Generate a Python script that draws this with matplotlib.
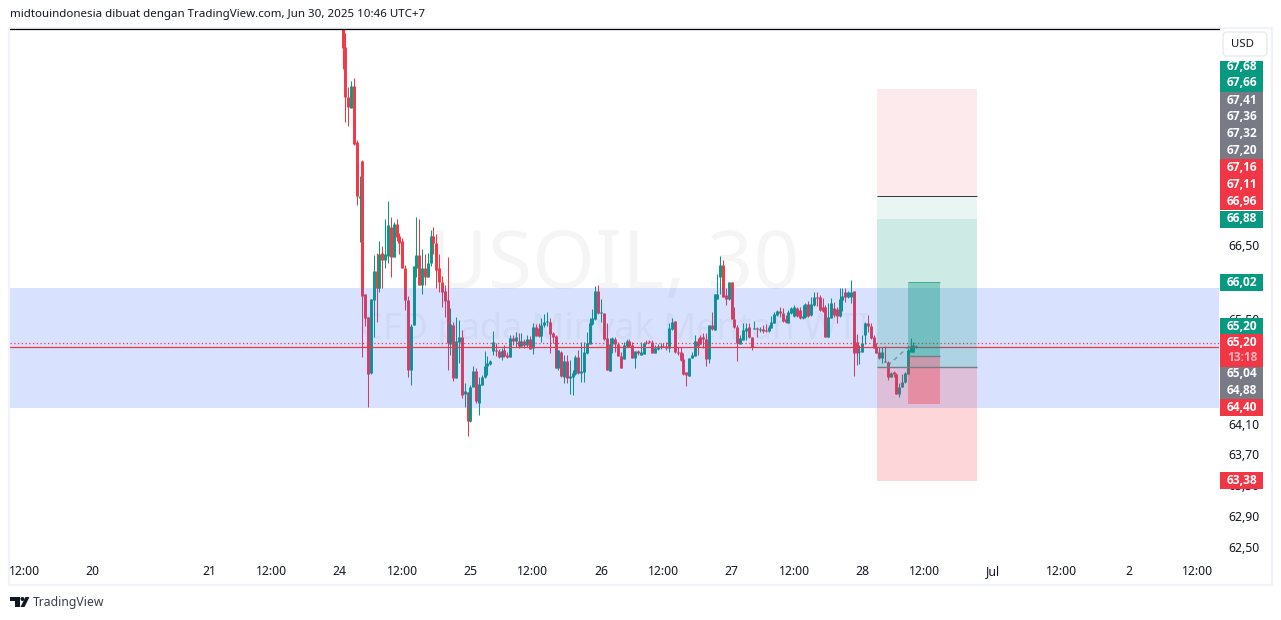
import matplotlib
matplotlib.use('Agg')
import matplotlib.pyplot as plt
from matplotlib.patches import Rectangle, Circle, Polygon, FancyBboxPatch
from matplotlib.ticker import NullLocator

GREEN = '#089981'
RED = '#F23645'
GREY = '#787B86'
INK = '#131722'

# 30 minute candles
opens = [69.54, 69.27, 68.56, 68.40, 68.71, 67.92, 67.15, 67.66, 65.84, 65.52,
         64.77, 65.75, 66.14, 65.91, 66.39, 66.30, 66.35, 66.75, 66.33, 66.79,
         66.63, 66.55, 66.19, 65.75, 64.81, 65.41, 66.19, 66.37, 65.96, 66.18,
         66.06, 66.25, 66.63, 66.53, 66.18, 65.99, 65.87, 65.75, 65.16, 65.41,
         64.70, 65.19, 65.25, 64.49, 64.52, 64.14, 64.58, 64.80, 64.38, 64.61,
         64.72, 64.87, 64.89, 65.07, 65.08, 65.07, 64.99, 65.08, 65.01, 64.99,
         65.24, 65.20, 65.20, 65.13, 65.20, 65.15, 65.23, 65.11, 65.39, 65.37,
         65.27, 65.41, 65.45, 65.45, 65.31, 65.27, 64.84, 65.05, 64.72, 64.93,
         64.70, 64.72, 64.76, 64.99, 64.77, 64.78, 65.04, 65.16, 65.43, 65.49,
         65.88, 65.58, 65.58, 65.24, 64.80, 65.16, 65.23, 65.16, 65.00, 64.96,
         65.13, 65.20, 65.15, 64.97, 65.07, 65.01, 65.03, 65.19, 65.20, 65.19,
         65.04, 65.09, 65.12, 65.13, 65.13, 65.11, 65.36, 65.47, 65.05, 65.05,
         64.96, 64.78, 64.73, 64.97, 65.00, 65.20, 65.25, 65.25, 65.23, 64.96,
         65.41, 65.35, 65.76, 66.07, 66.23, 65.82, 65.76, 65.99, 65.49, 65.39,
         65.16, 65.21, 65.33, 65.39, 65.25, 65.36, 65.37, 65.35, 65.36, 65.35,
         65.33, 65.37, 65.44, 65.55, 65.60, 65.58, 65.49, 65.44, 65.58, 65.53,
         65.64, 65.62, 65.51, 65.52, 65.70, 65.55, 65.68, 65.79, 65.79, 65.66,
         65.66, 65.25, 65.51, 65.64, 65.63, 65.53, 65.75, 65.86, 65.79, 65.79,
         65.87, 65.19, 65.05, 65.05, 65.28, 65.44, 65.40, 65.25, 65.12, 65.05,
         64.97, 64.93, 64.92, 64.72, 64.78, 64.76, 64.50, 64.58, 64.65, 64.76,
         65.05, 65.05, 65.12]
highs = [69.54, 69.46, 68.70, 68.78, 68.83, 67.95, 67.45, 67.67, 65.84, 65.52,
         65.76, 66.37, 66.39, 66.55, 66.49, 66.86, 67.10, 66.89, 66.82, 66.85,
         66.66, 66.59, 66.23, 65.80, 65.43, 66.22, 66.88, 66.86, 66.45, 66.38,
         66.39, 66.70, 66.74, 66.65, 66.38, 66.08, 65.95, 66.34, 65.64, 65.45,
         65.52, 65.48, 65.35, 64.64, 64.52, 64.61, 64.87, 64.84, 64.72, 64.74,
         65.07, 65.00, 64.95, 65.33, 65.17, 65.09, 65.11, 65.15, 65.05, 65.28,
         65.28, 65.32, 65.31, 65.31, 65.23, 65.28, 65.27, 65.44, 65.43, 65.44,
         65.51, 65.56, 65.59, 65.51, 65.32, 65.28, 65.08, 65.07, 65.01, 65.01,
         64.95, 64.81, 65.01, 65.08, 65.19, 65.19, 65.32, 65.51, 65.63, 65.94,
         65.96, 65.76, 65.58, 65.44, 65.24, 65.25, 65.25, 65.19, 65.05, 65.19,
         65.23, 65.23, 65.19, 65.07, 65.08, 65.19, 65.19, 65.21, 65.21, 65.21,
         65.15, 65.16, 65.17, 65.17, 65.19, 65.44, 65.51, 65.47, 65.12, 65.12,
         65.04, 64.78, 64.97, 65.05, 65.28, 65.24, 65.28, 65.31, 65.31, 65.41,
         65.59, 65.84, 66.11, 66.35, 66.30, 65.92, 66.00, 66.00, 65.66, 65.41,
         65.28, 65.44, 65.44, 65.44, 65.25, 65.47, 65.39, 65.39, 65.41, 65.43,
         65.41, 65.53, 65.59, 65.62, 65.66, 65.64, 65.55, 65.62, 65.66, 65.68,
         65.66, 65.66, 65.68, 65.71, 65.74, 65.79, 65.86, 65.86, 65.82, 65.78,
         65.68, 65.71, 65.78, 65.72, 65.66, 65.91, 65.91, 65.92, 65.88, 66.03,
         65.88, 65.29, 65.15, 65.28, 65.45, 65.55, 65.44, 65.28, 65.17, 65.12,
         65.12, 65.13, 64.93, 64.78, 64.80, 64.77, 64.64, 64.76, 64.78, 65.11,
         65.24, 65.19, 65.15]
lows = [68.95, 68.20, 68.15, 68.40, 67.88, 67.05, 66.54, 64.99, 65.40, 64.32,
        64.76, 65.25, 65.45, 65.86, 65.92, 66.18, 66.26, 66.07, 66.33, 66.55,
        66.38, 66.18, 65.62, 64.72, 64.61, 65.41, 66.06, 65.96, 65.84, 65.95,
        66.06, 66.22, 66.38, 65.92, 65.86, 65.66, 65.52, 64.81, 65.01, 64.66,
        64.70, 64.91, 64.44, 64.32, 63.94, 64.12, 64.58, 64.38, 64.22, 64.61,
        64.70, 64.74, 64.88, 65.01, 65.00, 64.97, 64.95, 64.99, 64.97, 64.99,
        65.15, 65.12, 65.11, 65.12, 65.11, 65.12, 65.09, 65.03, 65.27, 65.25,
        65.19, 65.39, 65.40, 65.04, 65.17, 64.84, 64.81, 64.72, 64.64, 64.64,
        64.49, 64.48, 64.74, 64.76, 64.65, 64.65, 65.03, 65.16, 65.41, 65.48,
        65.56, 65.45, 65.21, 64.81, 64.80, 65.04, 65.05, 65.00, 64.84, 64.96,
        65.12, 65.12, 64.97, 64.84, 65.01, 65.01, 65.03, 65.16, 65.17, 65.04,
        65.04, 65.08, 65.09, 65.12, 65.08, 65.05, 65.35, 65.04, 65.01, 64.93,
        64.74, 64.60, 64.73, 64.97, 65.00, 65.01, 65.16, 65.11, 64.87, 64.91,
        65.35, 65.35, 65.76, 65.84, 65.79, 65.68, 65.75, 65.49, 65.37, 64.93,
        65.16, 65.21, 65.21, 65.24, 65.08, 65.36, 65.25, 65.32, 65.31, 65.32,
        65.32, 65.37, 65.44, 65.53, 65.52, 65.45, 65.44, 65.44, 65.56, 65.52,
        65.52, 65.49, 65.49, 65.51, 65.52, 65.53, 65.67, 65.67, 65.60, 65.59,
        65.25, 65.25, 65.51, 65.52, 65.44, 65.52, 65.60, 65.72, 65.78, 65.71,
        64.73, 64.88, 64.89, 65.05, 65.16, 65.32, 65.23, 65.11, 65.04, 64.96,
        64.91, 64.92, 64.68, 64.72, 64.72, 64.50, 64.45, 64.58, 64.64, 64.76,
        65.05, 65.05, 65.11]
closes = [69.25, 68.55, 68.42, 68.71, 67.89, 67.17, 67.17, 65.80, 65.51, 64.76,
          65.76, 66.14, 65.92, 66.38, 66.30, 66.38, 66.77, 66.34, 66.79, 66.61,
          66.53, 66.18, 65.75, 64.81, 65.40, 66.21, 66.37, 65.96, 66.18, 66.06,
          66.25, 66.63, 66.53, 66.16, 65.99, 65.86, 65.74, 65.17, 65.43, 64.70,
          65.20, 65.25, 64.48, 64.53, 64.14, 64.58, 64.80, 64.40, 64.62, 64.72,
          64.87, 64.91, 64.93, 65.19, 65.07, 64.99, 65.07, 65.00, 64.99, 65.24,
          65.20, 65.25, 65.13, 65.20, 65.15, 65.23, 65.09, 65.39, 65.27, 65.27,
          65.41, 65.45, 65.47, 65.29, 65.25, 64.84, 65.08, 64.73, 64.93, 64.70,
          64.73, 64.77, 64.99, 64.77, 64.80, 65.05, 65.17, 65.44, 65.51, 65.88,
          65.58, 65.59, 65.23, 64.81, 65.16, 65.24, 65.16, 65.00, 64.84, 65.15,
          65.20, 65.13, 64.97, 65.07, 65.04, 65.05, 65.17, 65.17, 65.19, 65.04,
          65.11, 65.13, 65.13, 65.12, 65.11, 65.37, 65.45, 65.05, 65.04, 64.95,
          64.76, 64.74, 64.97, 65.01, 65.20, 65.13, 65.16, 65.23, 64.96, 65.41,
          65.36, 65.84, 65.84, 66.23, 65.79, 65.76, 66.00, 65.49, 65.39, 65.17,
          65.24, 65.35, 65.37, 65.25, 65.12, 65.37, 65.36, 65.36, 65.33, 65.33,
          65.39, 65.45, 65.56, 65.60, 65.58, 65.47, 65.45, 65.59, 65.64, 65.66,
          65.53, 65.51, 65.53, 65.70, 65.53, 65.70, 65.79, 65.78, 65.62, 65.60,
          65.25, 65.52, 65.71, 65.55, 65.53, 65.76, 65.80, 65.79, 65.86, 65.86,
          65.04, 65.04, 65.07, 65.17, 65.44, 65.40, 65.24, 65.11, 65.04, 64.97,
          65.05, 64.92, 64.72, 64.77, 64.76, 64.50, 64.58, 64.65, 64.77, 65.08,
          65.13, 65.15, 65.13]

# axes ticks
time_ticks = [-112, -88, -47, -25, -1, 21, 45, 67, 91, 113, 137, 159, 183, 205, 229, 253, 277, 301]
time_labels = ['12:00', '20', '21', '12:00', '24', '12:00', '25', '12:00', '26', '12:00',
               '27', '12:00', '28', '12:00', 'Jul', '12:00', '2', '12:00']
price_ticks = [62.5, 62.9, 63.3, 63.7, 64.1, 65.5, 66.5]
price_labels = ['62,50', '62,90', '63,30', '63,70', '64,10', '65,50', '66,50']

# drawn levels
zone_top, zone_bottom = 65.92, 64.31
last_price, prev_close = 65.17, 65.12
long_x = (188.2, 223.4)
stop_top, stop_line, target_top, entry, stop_bottom = 68.67, 67.17, 66.86, 64.85, 63.35
short_x = (199.1, 210.4)
short_top, short_mid, short_bottom = 66.00, 65.00, 64.36
trade_x = [192, 200]
trade_y = [64.87, 65.15]

# right hand price tags: (pixel row, text, colour)
tags = [(66, '67,68', GREEN), (83, '67,66', GREEN), (100, '67,41', GREY), (117, '67,36', GREY),
        (133.5, '67,32', GREY), (150.5, '67,20', GREY), (167.5, '67,16', RED), (184.5, '67,11', RED),
        (201.5, '66,96', RED), (219, '66,88', GREEN), (282.5, '66,02', GREEN), (326, '65,20', GREEN),
        (342.5, '65,20', RED), (373.5, '65,04', GREY), (390.5, '64,88', GREY), (407.5, '64,40', RED),
        (480.5, '63,38', RED)]

plt.rcParams['font.family'] = ['Noto Sans', 'DejaVu Sans']

W, H = 1281, 620
fig = plt.figure(figsize=(W / 100, H / 100), dpi=100, facecolor='white')
ax = fig.add_axes([10 / W, 1 - 585 / H, 1209 / W, 556 / H], zorder=1)
ax.set_yscale('log')
ax.set_ylim(62.01, 69.52)
ax.set_xlim(-117.1, 308.6)
for s in ax.spines.values():
    s.set_visible(False)

# watermark
ax.text(0.5, 0.572, 'USOIL, 30', transform=ax.transAxes, ha='center', va='center',
        fontsize=58, color=INK, alpha=0.04, zorder=0)
ax.text(0.5, 0.459, 'CFD pada Minyak Mentah WTI', transform=ax.transAxes, ha='center', va='center',
        fontsize=26, color=INK, alpha=0.04, zorder=0)

xs = list(range(len(opens)))
colors = [GREEN if c >= o else RED for o, c in zip(opens, closes)]
ax.vlines(xs, lows, highs, colors=colors, linewidth=0.75, zorder=2)
ax.vlines(xs, opens, closes, colors=colors, linewidth=2.1, zorder=2)

ax.axhspan(zone_bottom, zone_top, color='#2962FF', alpha=0.18, lw=0, zorder=3)
ax.axhline(prev_close, color=RED, lw=0.9, zorder=4)
ax.axhline(last_price, color=RED, lw=0.9, ls=(0, (1, 2)), zorder=4)

# position boxes
ax.fill_between(long_x, stop_line, stop_top, color=RED, alpha=0.1, lw=0, zorder=5)
ax.fill_between(long_x, target_top, stop_line, color=GREEN, alpha=0.09, lw=0, zorder=5)
ax.fill_between(long_x, entry, target_top, color=GREEN, alpha=0.2, lw=0, zorder=5)
ax.fill_between(long_x, stop_bottom, entry, color=RED, alpha=0.2, lw=0, zorder=5)
ax.hlines([stop_line], *long_x, color=INK, lw=0.6, zorder=6)
ax.hlines([entry], *long_x, color=GREY, lw=1.0, zorder=6)
ax.fill_between(short_x, short_mid, short_top, color=GREEN, alpha=0.36, lw=0, zorder=5)
ax.fill_between(short_x, short_bottom, short_mid, color=RED, alpha=0.36, lw=0, zorder=5)
ax.hlines([short_top], *short_x, color=GREEN, lw=0.7, alpha=0.6, zorder=6)
ax.hlines([short_mid], *short_x, color=GREY, lw=1.0, zorder=6)
ax.plot(trade_x, trade_y, color=GREY, lw=1.0, ls=(0, (3, 3)), alpha=0.8, zorder=6)

ax.set_xticks(time_ticks, labels=time_labels)
ax.tick_params(axis='x', length=0, pad=-14.5, labelsize=8.8, labelcolor=INK)
ax.yaxis.tick_right()
ax.set_yticks(price_ticks, labels=price_labels)
ax.yaxis.set_minor_locator(NullLocator())
ax.tick_params(axis='y', length=0, pad=6.5, labelsize=8.8, labelcolor=INK)

# everything outside the plot, in pixels
ov = fig.add_axes([0, 0, 1, 1], zorder=2)
ov.set_xlim(0, W)
ov.set_ylim(H, 0)
ov.axis('off')
ov.add_patch(Rectangle((9, 27.5), 1263, 557.5, fill=False, ec='#F0F3FA', lw=1.6))
ov.plot([10, 1219], [29, 29], color='black', lw=0.9)
ov.add_patch(FancyBboxPatch((1225, 34), 40, 20, boxstyle='round,pad=2,rounding_size=4',
                            fc='white', ec='#E8EAF0', lw=1))
ov.text(1242, 44.5, 'USD', ha='center', va='center', fontsize=8.2, color=INK)

for row, label, col in tags:
    top = max(row - 8.5, 61)
    ov.add_patch(Rectangle((1220, top), 43, row + 8.5 - top, fc=col, ec='none'))
    ov.text(1242, row, label, ha='center', va='center', fontsize=8.6, color='white',
            fontweight='bold', family='Open Sans')
ov.add_patch(Rectangle((1220, 350), 43, 16.5, fc=RED, ec='none'))
ov.text(1242, 357.5, '13:18', ha='center', va='center', fontsize=8.6, color='#FFB3BA',
        fontweight='bold', family='Open Sans')

ov.text(10, 15, 'midtouindonesia dibuat dengan TradingView.com, Jun 30, 2025 10:46 UTC+7',
        ha='left', va='center', fontsize=8.3, color=INK)

# logo
ov.add_patch(Polygon([(10, 597), (19.5, 597), (19.5, 607), (15, 607), (15, 601), (10, 601)], fc=INK, ec='none'))
ov.add_patch(Circle((22.5, 599), 2, fc=INK, ec='none'))
ov.add_patch(Polygon([(25.5, 597), (29.5, 597), (24.5, 607), (20.5, 607)], fc=INK, ec='none'))
ov.text(33, 602.5, 'TradingView', ha='left', va='center', fontsize=8.8, color='#3a3e4a')

fig.savefig('out.png', dpi=100)
